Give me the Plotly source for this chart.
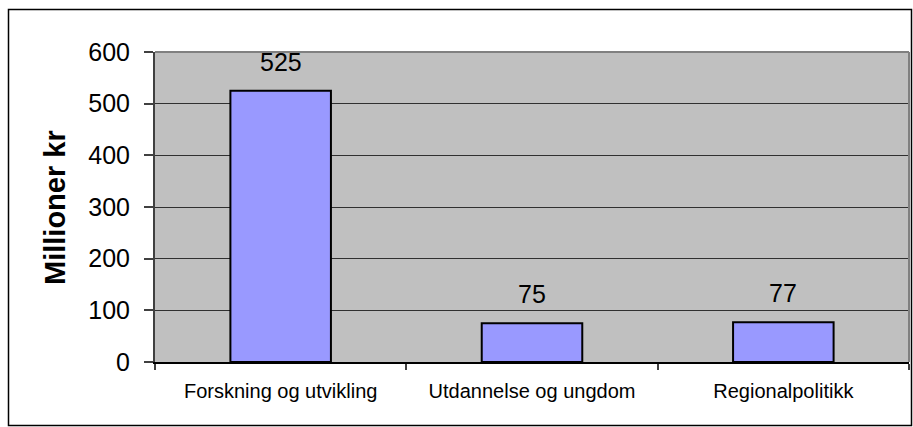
import plotly.graph_objects as go

categories = ["Forskning og utvikling", "Utdannelse og ungdom", "Regionalpolitikk"]
values = [525, 75, 77]
y_ticks = [0, 100, 200, 300, 400, 500, 600]
y_title = "Millioner kr"

W, H = 913, 427
L, R, T, B = 155, 4, 52, 65
pw, ph = W - L - R, H - T - B

def px_x(x):
    return (x - L) / pw

def px_y(y):
    return (H - B - y) / ph

FONT = "Liberation Sans, Arial, sans-serif"

fig = go.Figure()
fig.add_trace(go.Bar(
    x=categories, y=values,
    marker=dict(color="#9999FF", line=dict(color="black", width=2)),
    width=0.4, showlegend=False, hoverinfo="skip",
))

for c, v in zip(categories, values):
    fig.add_annotation(x=c, y=v, text=str(v), showarrow=False, yanchor="bottom",
                       yshift=13, font=dict(family=FONT, size=25, color="black"))

fig.add_annotation(xref="paper", yref="paper", x=px_x(55), y=px_y(207), text="<b>%s</b>" % y_title,
                   textangle=-90, showarrow=False, xanchor="center", yanchor="middle",
                   font=dict(family=FONT, size=29, color="black"))

# outer border
fig.add_shape(type="rect", xref="paper", yref="paper",
              x0=px_x(8.5), x1=px_x(911.5), y0=px_y(425.5), y1=px_y(9.5),
              line=dict(color="black", width=1.5), layer="above")
# plot area border top/right
fig.add_shape(type="line", xref="paper", yref="paper", x0=0, x1=1, y0=1, y1=1,
              line=dict(color="#808080", width=2))
fig.add_shape(type="line", xref="paper", yref="paper", x0=1, x1=1, y0=0, y1=1,
              line=dict(color="#808080", width=2))

fig.update_layout(
    width=W, height=H,
    margin=dict(l=L, r=R, t=T, b=B),
    paper_bgcolor="white", plot_bgcolor="#C0C0C0",
    font=dict(family=FONT, color="black"),
    xaxis=dict(
        type="category", tickson="boundaries", ticks="outside", ticklen=6,
        tickcolor="#404040", tickwidth=1.5, showgrid=False,
        showline=True, linecolor="black", linewidth=1.5,
        tickfont=dict(family=FONT, size=20, color="black"),
        ticklabelstandoff=10,
        range=[-0.5, 2.5],
    ),
    yaxis=dict(
        range=[0, 600], tickvals=y_ticks, ticks="outside", ticklen=9,
        tickcolor="#404040", tickwidth=1.5,
        showgrid=True, gridcolor="#303030", gridwidth=1,
        showline=True, linecolor="#404040", linewidth=2,
        zeroline=False,
        tickfont=dict(family=FONT, size=25, color="black"),
        ticklabelstandoff=9,
    ),
)

fig.write_html("out.html", config={"displayModeBar": False},
               post_script="document.body.style.margin='0';")
